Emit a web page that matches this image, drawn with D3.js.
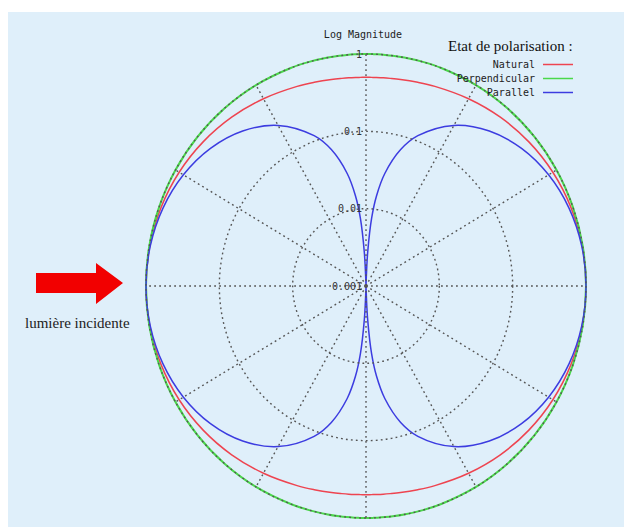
<!DOCTYPE html>
<html>
<head>
<meta charset="utf-8">
<script src="https://cdn.jsdelivr.net/npm/d3@7"></script>
<style>
  body { margin: 0; background: #fff; }
  svg { display: block; }
</style>
</head>
<body>
<div id="chart"></div>
<script>
// scattering angles (deg) for one quadrant, the picture is symmetric on both axes
const angles = [0, 10, 20, 30, 40, 50, 60, 70, 75, 80, 83, 85, 87, 88, 89, 90];
// magnitudes
const natural = [1.0, 0.985, 0.941, 0.875, 0.793, 0.707, 0.625, 0.558, 0.533, 0.515, 0.507, 0.504, 0.501, 0.5, 0.5, 0.5];
const perpendicular = [1, 1, 1, 1, 1, 1, 1, 1, 1, 1, 1, 1, 1, 1, 1, 1];
const parallel = [1.0, 0.97, 0.883, 0.75, 0.587, 0.413, 0.25, 0.117, 0.067, 0.03, 0.0149, 0.0076, 0.0027, 0.0012, 0.0003, 0.0001];
const ringTicks = [1, 0.1, 0.01, 0.001];
const ringLabels = ["1", "0.1", "0.01", "0.001"];
const spokeAngles = d3.range(0, 360, 30);
const seriesNames = ["Natural", "Perpendicular", "Parallel"];
const seriesColors = ["#ee4450", "#4ad84a", "#3c3ce0"];

const W = 624, H = 527;
const cx = 366, cy = 286, rx = 220, ry = 232;

const svg = d3.select("#chart").append("svg")
  .attr("width", W)
  .attr("height", H);

svg.append("rect")
  .attr("x", 8).attr("y", 12)
  .attr("width", W - 8).attr("height", H - 12)
  .attr("fill", "#dfeffa");

const r = d3.scaleLog().domain([0.001, 1]).range([0, 1]).clamp(true);
const px = (deg, v) => cx + rx * r(v) * Math.cos(deg * Math.PI / 180);
const py = (deg, v) => cy - ry * r(v) * Math.sin(deg * Math.PI / 180);

// mirror quadrant into full turn
function fullTurn(vals) {
  const pts = [];
  angles.forEach((a, i) => pts.push([a, vals[i]]));
  for (let i = angles.length - 2; i >= 0; i--) pts.push([180 - angles[i], vals[i]]);
  for (let i = 1; i < angles.length; i++) pts.push([180 + angles[i], vals[i]]);
  for (let i = angles.length - 2; i >= 1; i--) pts.push([360 - angles[i], vals[i]]);
  return pts;
}

const line = d3.line()
  .x(d => px(d[0], d[1]))
  .y(d => py(d[0], d[1]))
  .curve(d3.curveCatmullRomClosed.alpha(0.5));

const curves = svg.append("g");
[natural, perpendicular, parallel].forEach((vals, i) => {
  curves.append("path")
    .attr("d", line(fullTurn(vals)))
    .attr("fill", "none")
    .attr("stroke", seriesColors[i])
    .attr("stroke-width", i === 1 ? 2 : 1.5);
});

// grid on top
const grid = svg.append("g")
  .attr("stroke", "#555")
  .attr("stroke-width", 1.4)
  .attr("stroke-dasharray", "1.8,3.2")
  .attr("fill", "none");

ringTicks.filter(t => t > 0.001).forEach(t => {
  grid.append("ellipse")
    .attr("cx", cx).attr("cy", cy)
    .attr("rx", rx * r(t)).attr("ry", ry * r(t));
});

grid.selectAll("line")
  .data(spokeAngles)
  .join("line")
  .attr("x1", cx).attr("y1", cy)
  .attr("x2", d => px(d, 1))
  .attr("y2", d => py(d, 1));

svg.append("g")
  .selectAll("text")
  .data(ringTicks)
  .join("text")
  .attr("x", cx - 4)
  .attr("y", d => py(90, d) + 3.5)
  .attr("text-anchor", "end")
  .attr("font-family", "DejaVu Sans Mono, monospace")
  .attr("font-size", 10)
  .attr("fill", "#333")
  .text((d, i) => ringLabels[i]);

svg.append("text")
  .attr("x", 363).attr("y", 37.5)
  .attr("text-anchor", "middle")
  .attr("font-family", "DejaVu Sans Mono, monospace")
  .attr("font-size", 10)
  .attr("fill", "#222")
  .text("Log Magnitude");

// legend
svg.append("text")
  .attr("x", 448).attr("y", 51)
  .attr("font-family", "Liberation Serif, serif")
  .attr("font-size", 15)
  .attr("fill", "#111")
  .text("Etat de polarisation :");

const legend = svg.append("g");
seriesNames.forEach((name, i) => {
  const y = 64.5 + i * 14;
  legend.append("text")
    .attr("x", 535).attr("y", y + 3.5)
    .attr("text-anchor", "end")
    .attr("font-family", "DejaVu Sans Mono, monospace")
    .attr("font-size", 10)
    .attr("fill", "#222")
    .text(name);
  legend.append("line")
    .attr("x1", 543).attr("x2", 573)
    .attr("y1", y).attr("y2", y)
    .attr("stroke", seriesColors[i])
    .attr("stroke-width", 1.5);
});

// incident light arrow
svg.append("path")
  .attr("d", "M36,273 L96,273 L96,263 L123,283 L96,304 L96,293 L36,293 Z")
  .attr("fill", "#f20000");

svg.append("text")
  .attr("x", 25).attr("y", 328)
  .attr("font-family", "Liberation Serif, serif")
  .attr("font-size", 15)
  .attr("fill", "#222")
  .text("lumière incidente");
</script>
</body>
</html>
